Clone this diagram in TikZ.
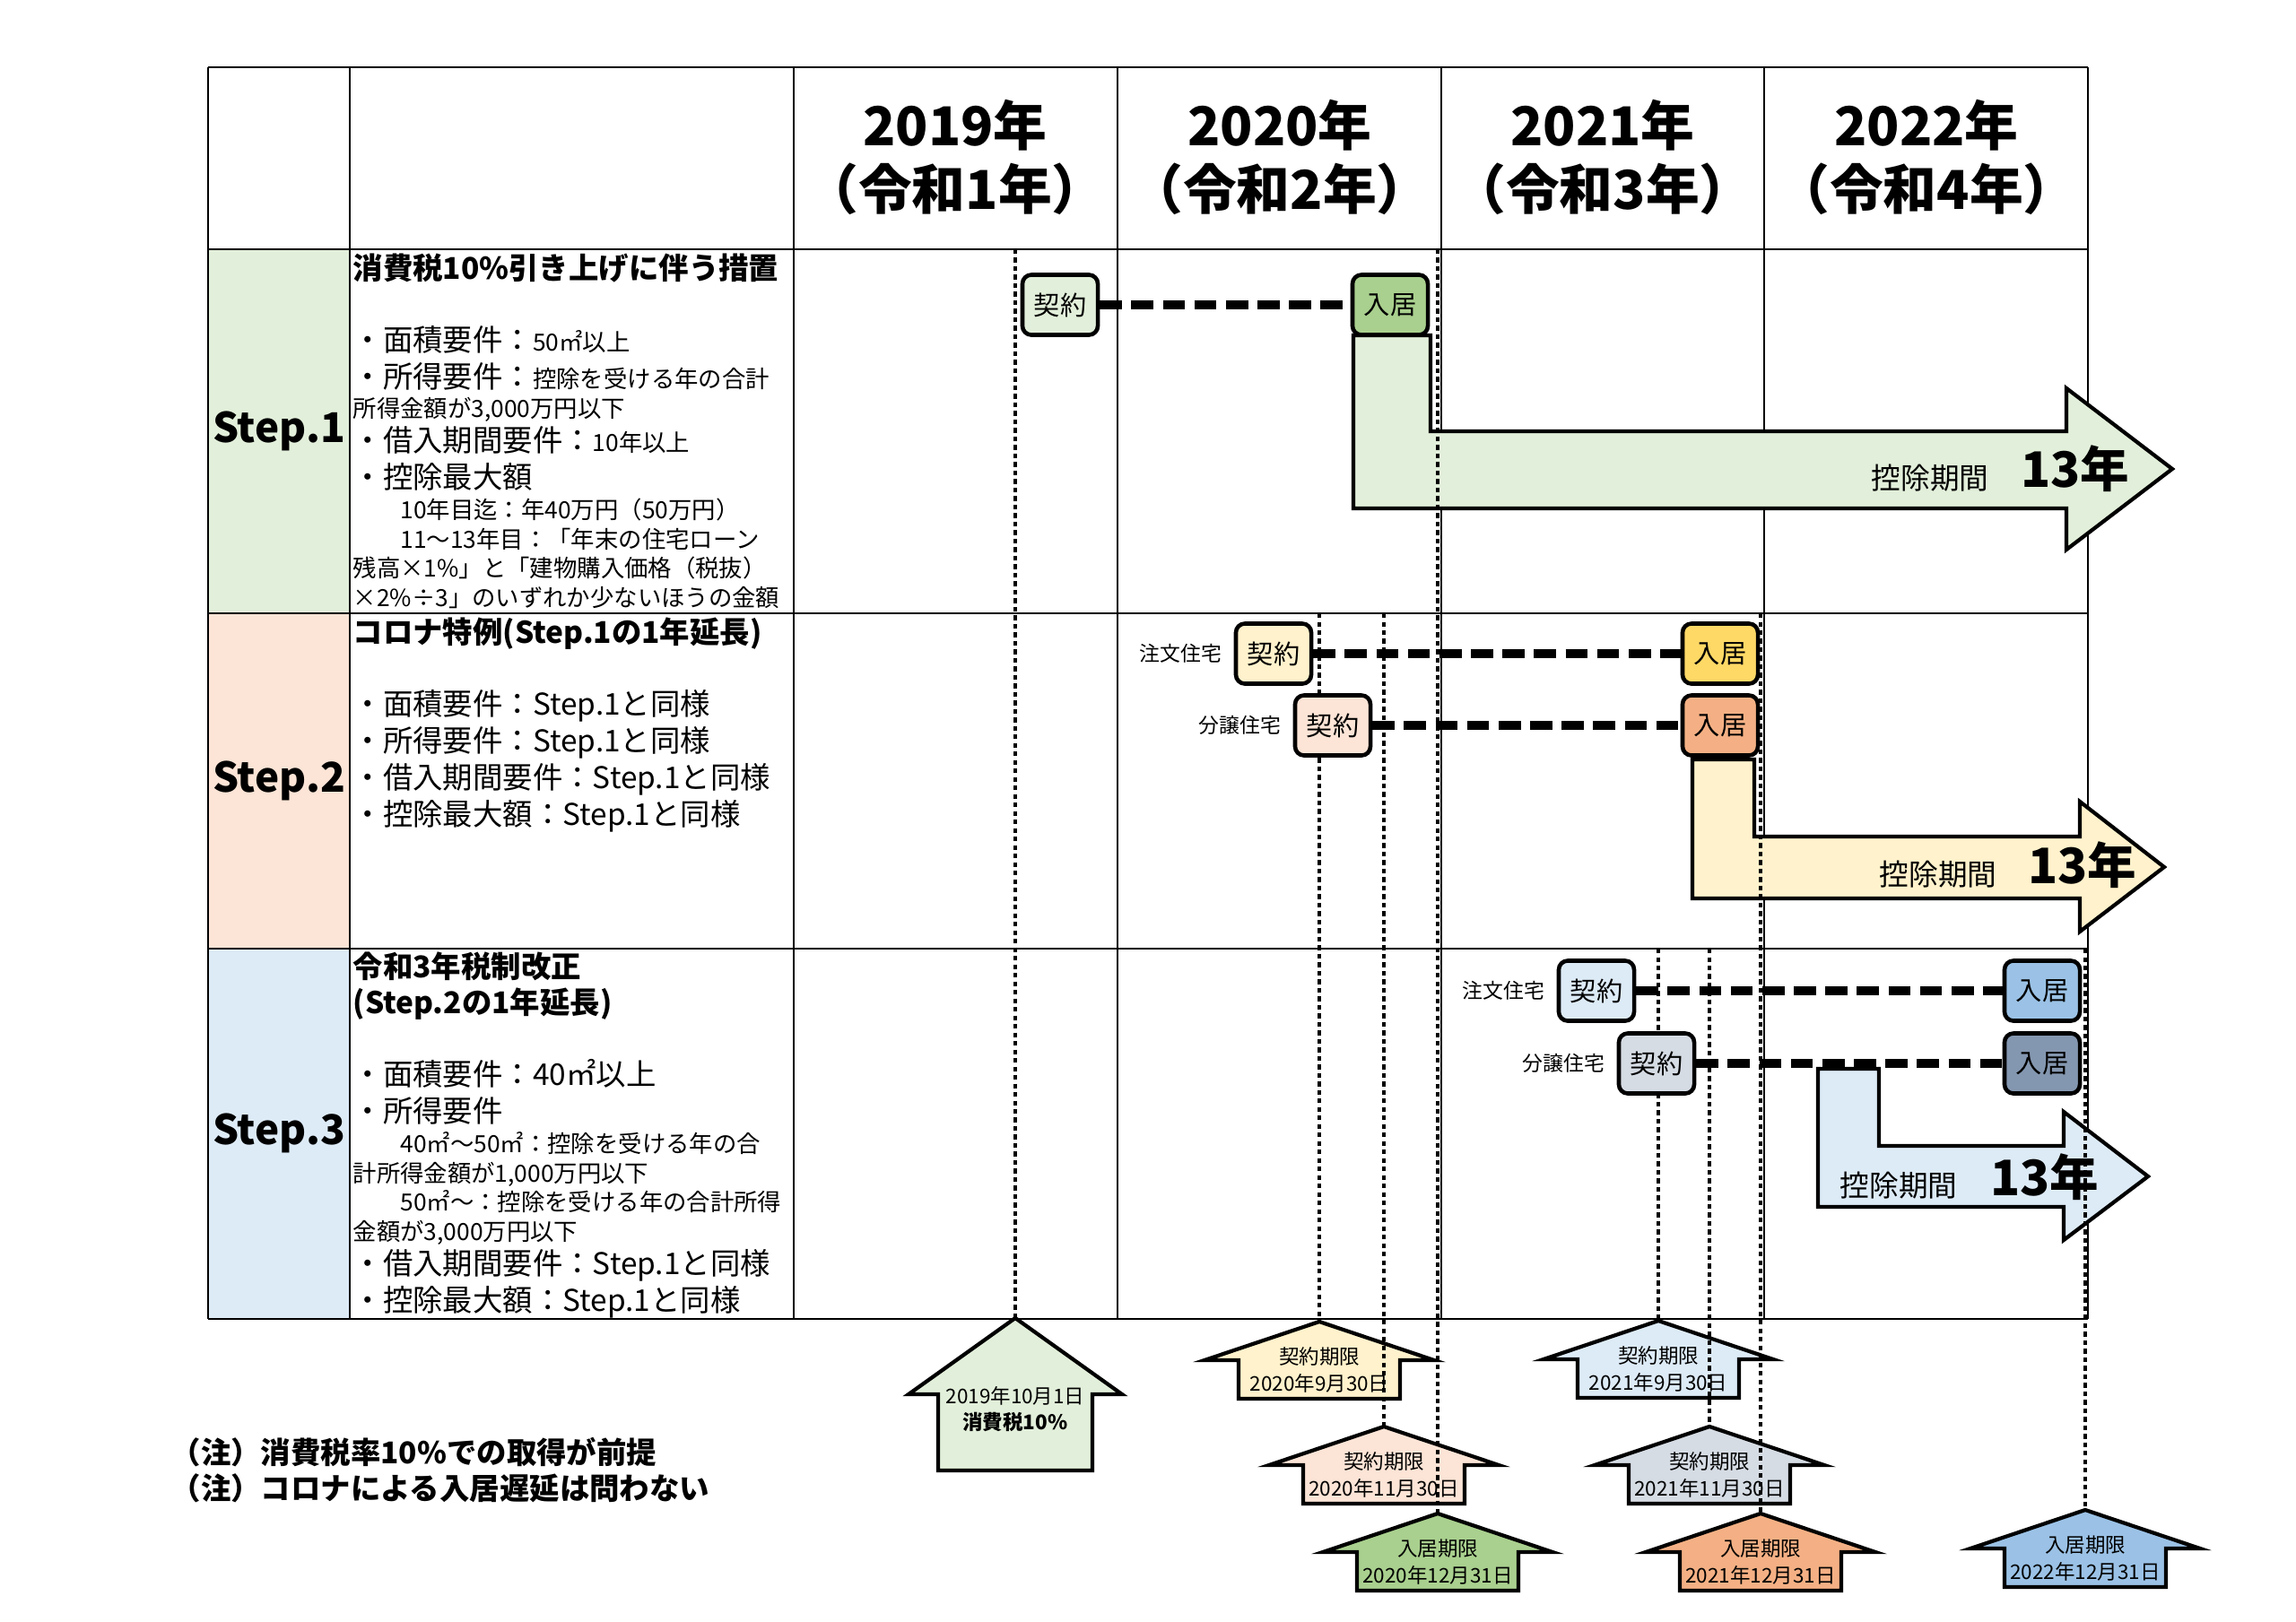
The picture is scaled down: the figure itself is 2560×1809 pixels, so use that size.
\documentclass[tikz,border=0pt]{standalone}
\usepackage{fontspec}
\setmainfont{Noto Sans CJK JP}
\usetikzlibrary{positioning}
\definecolor{grA}{HTML}{E2EFDA}
\definecolor{grB}{HTML}{A9D08E}
\definecolor{yeA}{HTML}{FFF2CC}
\definecolor{yeB}{HTML}{FFD966}
\definecolor{orA}{HTML}{FCE4D6}
\definecolor{orB}{HTML}{F4B084}
\definecolor{blA}{HTML}{DDEBF7}
\definecolor{blB}{HTML}{9BC2E6}
\definecolor{gyA}{HTML}{D6DCE4}
\definecolor{gyB}{HTML}{8497B0}
\newcommand\fsz[1]{\fontsize{#1}{#1}\selectfont}
\newcommand\hd[1]{{\fsz{9.5}#1}}
\begin{document}
\begin{tikzpicture}[x=0.01cm,y=-0.01cm,
  tabline/.style={line width=0.6pt},
  body/.style={anchor=base west,inner sep=0pt,font=\fsz{7.5}},
  bodyL/.style={anchor=base west,inner sep=0pt,font=\fsz{9.5}},
  ttl/.style={anchor=base west,inner sep=0pt,font=\fsz{9.5}\bfseries},
  stepname/.style={inner sep=0pt,font=\fsz{13}\bfseries},
  year/.style={inner sep=0pt,font=\fsz{17}\bfseries},
  ev/.style={draw,line width=1.3pt,rounded corners=0.1cm,minimum width=0.84cm,
    minimum height=0.67cm,inner sep=0pt,font=\fsz{8.3}},
  kind/.style={inner sep=0pt,font=\fsz{6.5}},
  band/.style={draw,line width=1.2pt},
  dotline/.style={line width=1pt,dash pattern=on 1.5pt off 1.2pt},
  dashline/.style={line width=2.6pt,dash pattern=on 7pt off 3pt},
  upar/.style={draw,line width=1.2pt},
  note/.style={inner sep=0pt,align=center,font=\fontsize{6.4}{8.3}\selectfont},
  period/.style={inner sep=0pt,font=\fsz{9.3}},
  years/.style={inner sep=0pt,font=\fsz{15.5}\bfseries},
  remark/.style={anchor=west,inner sep=0pt,font=\fsz{9.5}\bfseries}]
\useasboundingbox (0,0) rectangle (2560,1809);
\coordinate (r1) at (0,278);
\coordinate (r2) at (0,684);
\coordinate (r3) at (0,1058);

\fill[grA] (232,278) rectangle (390,684);
\fill[orA] (232,684) rectangle (390,1058);
\fill[blA] (232,1058) rectangle (390,1471);
\foreach \x in {232,390,885,1246,1607,1967,2328}
    \draw[tabline] (\x,75) -- (\x,1471);
\foreach \y in {75,278,684,1058,1471}
    \draw[tabline] (232,\y) -- (2328,\y);

\foreach \x/\yr/\rw [count=\i] in {1065/2019/1,1427/2020/2,1787/2021/3,2148/2022/4}
{
    \node[year] (yr\i) at (\x,140) {\yr 年};
    \node[year] (rw\i) at (\x,211) {（令和\rw 年）};
}
\foreach \y [count=\i] in {481,871,1264}
    \node[stepname] (s\i) at (311,\y) {Step.\i};

\node[ttl] (t1) at (393,311) {消費税10\%引き上げに伴う措置};
\foreach \y/\t [count=\i] in {391/{\hd{・面積要件：}50㎡以上},
    432/{\hd{・所得要件：}控除を受ける年の合計},
    465/{所得金額が3,000万円以下},
    503/{\hd{・借入期間要件：}10年以上},
    544/{\hd{・控除最大額}},
    578/{　　10年目迄：年40万円（50万円）},
    611/{　　11～13年目：「年末の住宅ローン},
    643/{残高×1\%」と「建物購入価格（税抜）},
    676/{×2\%÷3」のいずれか少ないほうの金額}}
    \node[body] (a\i) at (393,\y) {\t};

\node[ttl] (t2) at (393,717) {コロナ特例(Step.1の1年延長)};
\foreach \y/\t [count=\i] in {797/面積要件,838/所得要件,879/借入期間要件,920/控除最大額}
    \node[bodyL] (b\i) at (393,\y) {・\t：Step.1と同様};

\node[ttl] (t3) at (393,1090) {令和3年税制改正};
\node[ttl] (t3b) at (393,1130) {(Step.2の1年延長)};
\foreach \y/\t [count=\i] in {1210/{\hd{・面積要件：40㎡以上}},
    1251/{\hd{・所得要件}},
    1285/{　　40㎡～50㎡：控除を受ける年の合},
    1318/{計所得金額が1,000万円以下},
    1350/{　　50㎡～：控除を受ける年の合計所得},
    1383/{金額が3,000万円以下},
    1421/{\hd{・借入期間要件：Step.1と同様}},
    1462/{\hd{・控除最大額：Step.1と同様}}}
    \node[body] (c\i) at (393,\y) {\t};

\draw[band,fill=grA] (1509,374) -- (1595,374) -- (1595,481) -- (2304,481) -- (2304,433)
    -- (2422,523) -- (2304,613) -- (2304,567) -- (1509,567) -- cycle;
\node[period] (p1) at (2152,533) {控除期間};
\node[years] (n1) at (2314,523) {13年};
\draw[band,fill=yeA] (1887,847) -- (1956,847) -- (1956,933) -- (2319,933) -- (2319,894)
    -- (2413,967) -- (2319,1039) -- (2319,1002) -- (1887,1002) -- cycle;
\node[period] (p2) at (2161,975) {控除期間};
\node[years] (n2) at (2322,965) {13年};
\draw[band,fill=blA] (2027,1192) -- (2095,1192) -- (2095,1278) -- (2301,1278) -- (2301,1240)
    -- (2395,1312) -- (2301,1383) -- (2301,1346) -- (2027,1346) -- cycle;
\node[period] (p3) at (2117,1322) {控除期間};
\node[years] (n3) at (2280,1313) {13年};

\coordinate (dz) at (1132,1470);
\draw[upar,fill=grA] (dz) -- ++(119,85) -- ++(-33,0) -- ++(0,85) -- ++(-172,0)
    -- ++(0,-85) -- ++(-33,0) -- cycle;
\node[note] (tdz) at (1132,1572) {2019年10月1日\\\textbf{消費税10\%}};
\foreach \n/\x/\y/\c/\ta/\tb in {da/1471/1474/yeA/契約期限/2020年9月30日,
    db/1543/1591/orA/契約期限/2020年11月30日,
    dc/1603/1688/grB/入居期限/2020年12月31日,
    dd/1849/1473/blA/契約期限/2021年9月30日,
    de/1906/1591/gyA/契約期限/2021年11月30日,
    df/1963/1688/orB/入居期限/2021年12月31日,
    dg/2325/1684/blB/入居期限/2022年12月31日}
{
    \coordinate (\n) at (\x,\y);
    \draw[upar,fill=\c] (\n) -- ++(128,43) -- ++(-38,0) -- ++(0,43) -- ++(-180,0)
        -- ++(0,-43) -- ++(-38,0) -- cycle;
    \node[note] (t\n) at (\x,\y+54) {\ta\\\tb};
}
\foreach \n/\r in {dz/r1,da/r2,db/r2,dc/r1,dd/r3,de/r3,df/r2,dg/r3}
    \draw[dotline] (\n |- \r) -- (\n);

\node[ev,fill=grA] (k1) at (1182,340) {契約};
\node[ev,fill=grB] (e1) at (1550,340) {入居};
\node[ev,fill=yeA] (k2) at (1420,729) {契約};
\node[ev,fill=yeB] (e2) at (1918,729) {入居};
\node[ev,fill=orA] (k3) at (1486,809) {契約};
\node[ev,fill=orB] (e3) at (1918,809) {入居};
\node[ev,fill=blA] (k4) at (1780,1105) {契約};
\node[ev,fill=blB] (e4) at (2277,1105) {入居};
\node[ev,fill=gyA] (k5) at (1847,1186) {契約};
\node[ev,fill=gyB] (e5) at (2277,1186) {入居};
\foreach \i in {1,...,5}
    \draw[dashline] (k\i) -- (e\i);
\foreach \i/\t in {2/注文住宅,3/分譲住宅,4/注文住宅,5/分譲住宅}
    \node[kind,left=0.13cm of k\i] (l\i) {\t};

\node[remark] (m1) at (190,1620) {（注）消費税率10\%での取得が前提};
\node[remark] (m2) at (190,1660) {（注）コロナによる入居遅延は問わない};
\end{tikzpicture}
\end{document}
